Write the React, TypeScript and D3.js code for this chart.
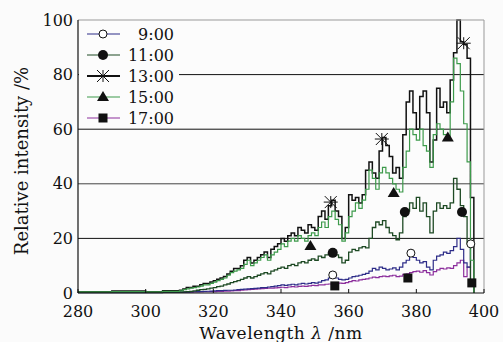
import React from "react";
import * as d3 from "d3";

const wavelengths: number[] = [280, 290, 300, 305, ...d3.range(310, 398)];

const s13: (number | null)[] = [
  0.5, 0.7, 0.5, 0.8,
  1, 1.5, 2, 2, 2.5, 2.5, 3, 3.5, 3.5, 4,
  4.5, 5, 5.5, 6, 7, 8, 9, 9, 10, 12,
  13, 11, 12, 13, 14, 15, 13, 16, 17, 18,
  20, 19, 21, 22, 21, 24, 23, 22, 25, 24,
  23, 28, 30, 27, 32, 34, 30, 28, 20, 24,
  36, 34, 35, 33, 36, 45, 48, 44, 42, 52,
  57, 54, 50, 44, 46, 42, 58, 70, 74, 66,
  60, 72, 74, 66, 48, 56, 75, 68, 70, 66,
  78, 88, 100, 92, 91, 86, 35, 0,
];
const s15: (number | null)[] = [
  0.4, 0.5, 0.4, 0.6,
  0.8, 1.2, 1.5, 1.8, 2, 2.2, 2.5, 3, 3, 3.5,
  4, 4.5, 5, 5.5, 6.5, 7.5, 8, 8.5, 9, 10.5,
  12, 10, 11, 12, 13, 14, 12, 14, 15, 16,
  18, 17, 19, 20, 19, 21, 20, 19, 21, 22,
  21, 24, 26, 24, 28, 30, 27, 25, 19, 22,
  28, 30, 33, 31, 34, 38, 45, 42, 38, 44,
  46, 44, 42, 40, 38, 37, 46, 52, 60, 58,
  56, 60, 54, 52, 46, 58, 62, 60, 58, 56,
  70, 86, 84, 74, 62, 48, 12, 0,
];
const s11: (number | null)[] = [
  0.2, 0.3, 0.2, 0.3,
  0.3, 0.4, 0.5, 0.6, 0.8, 1, 1.2, 1.3, 1.5, 1.8,
  2, 2.3, 2.5, 3, 3.3, 3.8, 4.2, 4.5, 5, 5.5,
  6, 5.5, 6, 6.5, 7, 7.5, 7, 8, 8.5, 9,
  9.5, 9, 10, 10.5, 10, 11, 11.5, 11, 12, 12.5,
  12, 13.5, 13, 14, 14.5, 15, 14, 13, 11, 12,
  15, 16, 15.5, 16.5, 17, 16.5, 20, 24, 26, 25,
  26.5, 24, 22, 21, 19.5, 22, 28, 30, 33, 31,
  35, 30, 33, 28, 22, 30, 33, 31, 32, 31,
  33, 42, 38, 32, 28, 18, 3, 0,
];
const s9: (number | null)[] = [
  0.1, 0.1, 0.1, 0.2,
  0.3, 0.3, 0.35, 0.4, 0.45, 0.5, 0.55, 0.6, 0.65, 0.7,
  0.8, 0.85, 0.9, 0.95, 1, 1, 1.1, 1.2, 1.3, 1.4,
  1.5, 1.6, 1.7, 1.8, 2, 2, 2.2, 2.3, 2.5, 2.7,
  3, 2.8, 3, 3.2, 3, 3.3, 3.5, 3.3, 3.5, 3.8,
  3.6, 4, 4.5, 4.8, 5.5, 6.5, 5.5, 5, 4.8, 5,
  5.5, 6, 6.2, 6.5, 6.8, 7.2, 8, 9, 8.5, 9.5,
  9, 8.5, 8.8, 9.2, 8.5, 9.5, 11, 12, 14.5, 13,
  12, 11, 11.5, 9.5, 8.5, 12, 13.5, 14, 15, 14.5,
  15.5, 17, 20, 16, 11, 9.5, 17, null,
];
const s17: (number | null)[] = [
  0.3, 0.3, 0.3, 0.3,
  0.3, 0.3, 0.35, 0.35, 0.4, 0.4, 0.4, 0.45, 0.45, 0.5,
  0.5, 0.55, 0.6, 0.65, 0.7, 0.8, 0.85, 0.9, 1, 1.1,
  1.2, 1.3, 1.4, 1.5, 1.6, 1.7, 1.8, 1.8, 1.9, 2,
  2.1, 2, 2.2, 2.3, 2.2, 2.4, 2.5, 2.4, 2.6, 2.8,
  2.7, 3, 3, 3.2, 3.3, 3.5, 3.3, 3.6, 3.5, 3.8,
  4.2, 4.5, 4.4, 4.8, 5, 5.2, 5.5, 5.8, 5.6, 6,
  6.2, 6, 6.3, 6.5, 6, 6.2, 6.8, 7, 7.5, 7.8,
  8, 7.6, 8.2, 7.5, 6.6, 7.8, 8.5, 9, 8.8, 9.2,
  9, 10, 11, 12, 6, 9.5, 4, null,
];

const markers9: [number, number][] = [[355.3, 6.6], [378.4, 14.6], [396.1, 18]];
const markers11: [number, number][] = [[355.3, 14.7], [376.6, 29.7], [393.5, 29.7]];
const markers13: [number, number][] = [[354.7, 33.3], [369.8, 56.4], [394, 91.5]];
const markers15: [number, number][] = [[348.7, 17.2], [373.3, 36.6], [389.3, 57]];
const markers17: [number, number][] = [[355.9, 2.6], [377.5, 5.5], [396.4, 3.7]];

const seriesNames = ["9:00", "11:00", "13:00", "15:00", "17:00"];
const xTicks = [280, 300, 320, 340, 360, 380, 400];
const yTicks = [0, 20, 40, 60, 80, 100];
const gridValues = [20, 40, 60, 80];

type Series = {
  name: string;
  values: (number | null)[];
  markers: [number, number][];
  color: string;
  width: number;
  marker: string;
};

const series: Series[] = [
  { name: seriesNames[0], values: s9, markers: markers9, color: "#2d2c88", width: 1.2, marker: "ocircle" },
  { name: seriesNames[1], values: s11, markers: markers11, color: "#1e4a24", width: 1.3, marker: "circle" },
  { name: seriesNames[2], values: s13, markers: markers13, color: "#111111", width: 1.5, marker: "star" },
  { name: seriesNames[3], values: s15, markers: markers15, color: "#3d9a4b", width: 1.2, marker: "triangle" },
  { name: seriesNames[4], values: s17, markers: markers17, color: "#8c2e9c", width: 1.2, marker: "square" },
];

const FONT = "'DejaVu Serif', serif";

function Marker({ kind, x, y }: { kind: string; x: number; y: number }) {
  if (kind === "ocircle")
    return <circle cx={x} cy={y} r={4} fill="#fff" stroke="#111" strokeWidth={1} />;
  if (kind === "circle") return <circle cx={x} cy={y} r={5} fill="#111" />;
  if (kind === "square") return <rect x={x - 4.5} y={y - 4.5} width={9} height={9} fill="#111" />;
  if (kind === "triangle")
    return <path d={`M${x},${y - 6}L${x + 6},${y + 4}L${x - 6},${y + 4}Z`} fill="#111" />;
  const r = 6;
  return (
    <path
      d={`M${x - r},${y - r}L${x + r},${y + r}M${x - r},${y + r}L${x + r},${y - r}M${x - r - 1},${y}L${x + r + 1},${y}M${x},${y - r}L${x},${y + r}`}
      stroke="#111"
      strokeWidth={1}
      fill="none"
    />
  );
}

export default function App() {
  const W = 503;
  const H = 342;
  const x = d3.scaleLinear().domain([280, 400]).range([78, 484]);
  const y = d3.scaleLinear().domain([0, 100]).range([293, 20]);

  const line = d3
    .line<number | null>()
    .defined((d) => d !== null)
    .x((_, i) => x(wavelengths[i]))
    .y((d) => y(d as number))
    .curve(d3.curveStepAfter);

  const legendRows = [34, 55, 76, 97, 118];

  return (
    <svg
      width={W}
      height={H}
      style={{ position: "absolute", left: 0, top: 0, background: "#fbfbfb" }}
      fontFamily={FONT}
    >
      <defs>
        <clipPath id="plotClip">
          <rect x={x(280)} y={y(100) - 1} width={x(400) - x(280)} height={y(0) - y(100) + 2} />
        </clipPath>
      </defs>
      <rect x={x(280)} y={y(100)} width={x(400) - x(280)} height={y(0) - y(100)} fill="#fcfcfc" />
      {gridValues.map((g) => (
        <line key={g} x1={x(280)} x2={x(400)} y1={y(g)} y2={y(g)} stroke={g === 40 ? "#444" : "#111"} strokeWidth={1} />
      ))}
      <g clipPath="url(#plotClip)">
        {[series[4], series[0], series[1], series[2], series[3]].map((s) => (
          <path key={s.name} d={line(s.values) || ""} fill="none" stroke={s.color} strokeWidth={s.width} />
        ))}
      </g>
      {series.map((s) =>
        s.markers.map((m, i) => <Marker key={s.name + i} kind={s.marker} x={x(m[0])} y={y(m[1])} />)
      )}
      {/* frame */}
      <line x1={x(280)} x2={x(400)} y1={y(100)} y2={y(100)} stroke="#999" strokeWidth={1} />
      <line x1={x(400)} x2={x(400)} y1={y(100)} y2={y(0)} stroke="#999" strokeWidth={1} />
      <line x1={x(280)} x2={x(280)} y1={y(100)} y2={y(0)} stroke="#111" strokeWidth={1.2} />
      <line x1={x(280)} x2={x(400)} y1={y(0)} y2={y(0)} stroke="#111" strokeWidth={1.2} />
      {xTicks.map((t) => (
        <g key={t}>
          <line x1={x(t)} x2={x(t)} y1={y(0)} y2={y(0) - 4} stroke="#111" />
          <text x={x(t)} y={317} textAnchor="middle" fontSize={16} fill="#111">
            {t}
          </text>
        </g>
      ))}
      {yTicks.map((t) => (
        <text key={t} x={73} y={y(t) + 5.5} textAnchor="end" fontSize={16} fill="#111">
          {t}
        </text>
      ))}
      {/* legend */}
      <rect x={79} y={22} width={100} height={104} fill="#fcfcfc" />
      {series.map((s, i) => (
        <g key={s.name}>
          <line x1={87} x2={120} y1={legendRows[i]} y2={legendRows[i]} stroke={s.color} strokeWidth={i === 2 ? 2 : 1.2} />
          <Marker kind={s.marker} x={103} y={legendRows[i]} />
          <text x={174} y={legendRows[i] + 6} textAnchor="end" fontSize={16} fill="#111">
            {s.name}
          </text>
        </g>
      ))}
      <text
        transform={`translate(28,161) rotate(-90)`}
        textAnchor="middle"
        fontSize={18}
        fill="#111"
      >
        Relative intensity /%
      </text>
      <text x={281} y={339} textAnchor="middle" fontSize={17} letterSpacing={0.5} fill="#111">
        Wavelength <tspan fontStyle="italic">λ</tspan> /nm
      </text>
    </svg>
  );
}
